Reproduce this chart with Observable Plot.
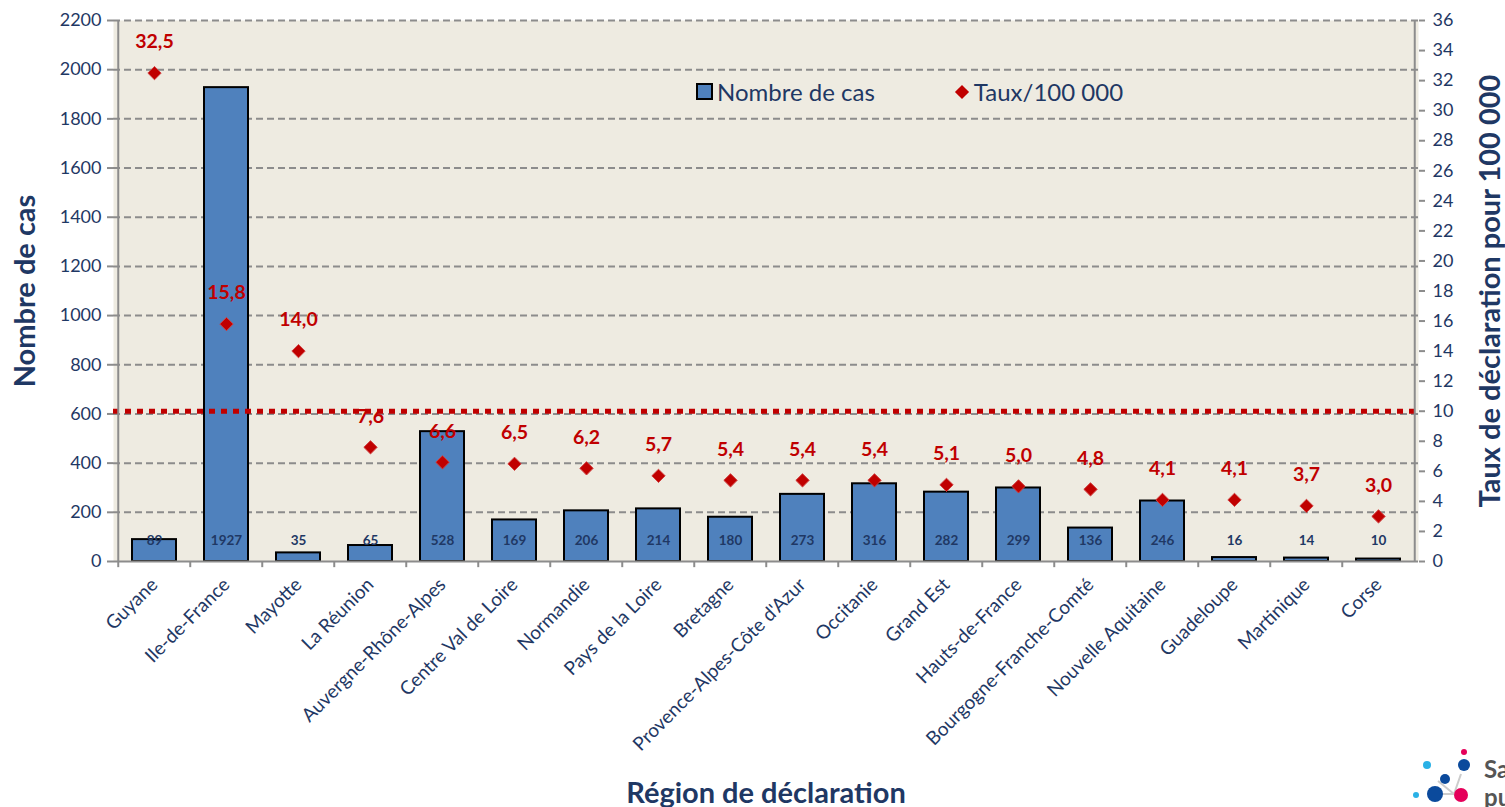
<!DOCTYPE html>
<html>
<head>
<meta charset="utf-8">
<script src="https://cdn.jsdelivr.net/npm/d3@7"></script>
<script src="https://cdn.jsdelivr.net/npm/@observablehq/plot@0.6"></script>
<style>
  html, body { margin: 0; padding: 0; background: white; }
  #wrap { position: relative; width: 1505px; height: 807px; overflow: hidden; font-family: Lato, "Open Sans", sans-serif; }
  #legend { position: absolute; left: 696px; top: 77px; display: flex; align-items: center; font-size: 24px; color: #1f3864; }
  .sq { width: 13px; height: 13px; background: #4f81bd; border: 2px solid #000; margin-right: 4px; }
  .dm { width: 10px; height: 10px; background: #c00000; transform: rotate(45deg); margin-right: 7px; margin-left: 82px; }
  #logo { position: absolute; left: 1410px; top: 740px; }
</style>
</head>
<body>
<div id="wrap">
  <div id="chart"></div>
  <div id="legend"><div class="sq"></div><span>Nombre de cas</span><div class="dm"></div><span>Taux/100 000</span></div>
  <svg id="logo" width="95" height="67">
    <line x1="51" y1="34" x2="44" y2="54" stroke="#ccc" stroke-width="2"/>
    <line x1="28" y1="41" x2="44" y2="54" stroke="#ccc" stroke-width="2"/>
    <line x1="24" y1="54" x2="44" y2="54" stroke="#ccc" stroke-width="2"/>
    <circle cx="17" cy="25" r="4" fill="#2ab1e6"/>
    <circle cx="54" cy="12" r="3" fill="#e5005a"/>
    <circle cx="54" cy="25" r="6" fill="#0b4a9c"/>
    <circle cx="35" cy="39" r="5" fill="#0b4a9c"/>
    <circle cx="25" cy="54" r="8" fill="#0b4a9c"/>
    <circle cx="6" cy="55" r="3" fill="#2ab1e6"/>
    <circle cx="51" cy="55" r="7" fill="#e5005a"/>
    <text x="74" y="38" font-size="24" font-weight="bold" fill="#555">Sa</text>
    <text x="74" y="66" font-size="24" font-weight="bold" fill="#555">pu</text>
  </svg>
</div>
<script>
const regions = ["Guyane", "Ile-de-France", "Mayotte", "La Réunion", "Auvergne-Rhône-Alpes", "Centre Val de Loire", "Normandie", "Pays de la Loire", "Bretagne", "Provence-Alpes-Côte d'Azur", "Occitanie", "Grand Est", "Hauts-de-France", "Bourgogne-Franche-Comté", "Nouvelle Aquitaine", "Guadeloupe", "Martinique", "Corse"];
const cases = [89, 1927, 35, 65, 528, 169, 206, 214, 180, 273, 316, 282, 299, 136, 246, 16, 14, 10];
const rates = [32.5, 15.8, 14.0, 7.6, 6.6, 6.5, 6.2, 5.7, 5.4, 5.4, 5.4, 5.1, 5.0, 4.8, 4.1, 4.1, 3.7, 3.0];
const leftTicks = d3.range(0, 2201, 200);
const rightTicks = d3.range(0, 37, 2);
const threshold = 10;

const leftMax = 2200, rightMax = 36;
const k = leftMax / rightMax; // rate -> count units
const data = regions.map((r, i) => ({region: r, cases: cases[i], rate: rates[i]}));

const W = 1505, H = 807, mL = 113, mR = 87, mT = 20, mB = 246;
const step = (W - mL - mR) / regions.length;
const navy = "#1f3864", red = "#c00000", gray = "#8c8c8c", bg = "#eeebe1";
const fmt = v => v.toFixed(1).replace(".", ",");

const chart = Plot.plot({
  width: W, height: H,
  marginLeft: mL, marginRight: mR, marginTop: mT, marginBottom: mB,
  style: {fontFamily: "Lato, 'Open Sans', sans-serif", background: "white", overflow: "visible"},
  x: {domain: regions, paddingInner: 0.39, paddingOuter: 0.195, axis: null},
  y: {domain: [0, leftMax], axis: null},
  marks: [
    Plot.frame({fill: bg, stroke: null}),
    Plot.ruleY(leftTicks.filter(d => d > 0), {stroke: gray, strokeWidth: 2, strokeDasharray: "7,4"}),
    Plot.barY(data, {x: "region", y: "cases", fill: "#4f81bd", stroke: "black", strokeWidth: 2}),
    Plot.ruleY([threshold * k], {stroke: red, strokeWidth: 5, strokeDasharray: "6,6"}),
    // axis lines
    Plot.ruleY([0], {stroke: gray, strokeWidth: 2}),
    Plot.ruleX([regions[0]], {dx: -step / 2, y1: 0, y2: leftMax, stroke: gray, strokeWidth: 2}),
    Plot.ruleX([regions[regions.length - 1]], {dx: step / 2, y1: 0, y2: leftMax, stroke: gray, strokeWidth: 2}),
    Plot.ruleX(regions, {dx: -step / 2, y1: 0, y2: -25, stroke: gray, strokeWidth: 2}),
    // left axis
    Plot.axisY(leftTicks, {anchor: "left", tickSize: 6, tickPadding: 6, stroke: gray, strokeWidth: 2, fill: navy, fontSize: 18, label: null, tickFormat: d => String(d)}),
    // right axis
    Plot.axisY(rightTicks.map(v => v * k), {anchor: "right", tickSize: 6, tickPadding: 8, stroke: gray, strokeWidth: 2, fill: navy, fontSize: 18, label: null, tickFormat: v => String(Math.round(v / k))}),
    // x axis labels
    Plot.axisX({tickRotate: -45, tickSize: 0, tickPadding: 20, fill: navy, fontSize: 19, label: null}),
    // bar labels
    Plot.text(data, {x: "region", y: () => 85, text: d => String(d.cases), fill: navy, fontWeight: "bold", fontSize: 13.5}),
    // rate markers
    Plot.dot(data, {x: "region", y: d => d.rate * k, symbol: "diamond2", fill: red, stroke: "#d04040", strokeWidth: 1, r: 6}),
    Plot.text(data, {x: "region", y: d => d.rate * k, dy: -31, text: d => fmt(d.rate), fill: red, fontWeight: "bold", fontSize: 19.5}),
    // axis titles
    Plot.text(["Nombre de cas"], {frameAnchor: "left", textAnchor: "middle", dx: -88, rotate: -90, fill: navy, fontWeight: "bold", fontSize: 29}),
    Plot.text(["Taux de déclaration pour 100 000"], {frameAnchor: "right", textAnchor: "middle", dx: 72, rotate: -90, fill: navy, fontWeight: "bold", fontSize: 29}),
    Plot.text(["Région de déclaration"], {frameAnchor: "bottom", dy: 241, fill: navy, fontWeight: "bold", fontSize: 29})
  ]
});
document.getElementById("chart").appendChild(chart);
</script>
</body>
</html>
